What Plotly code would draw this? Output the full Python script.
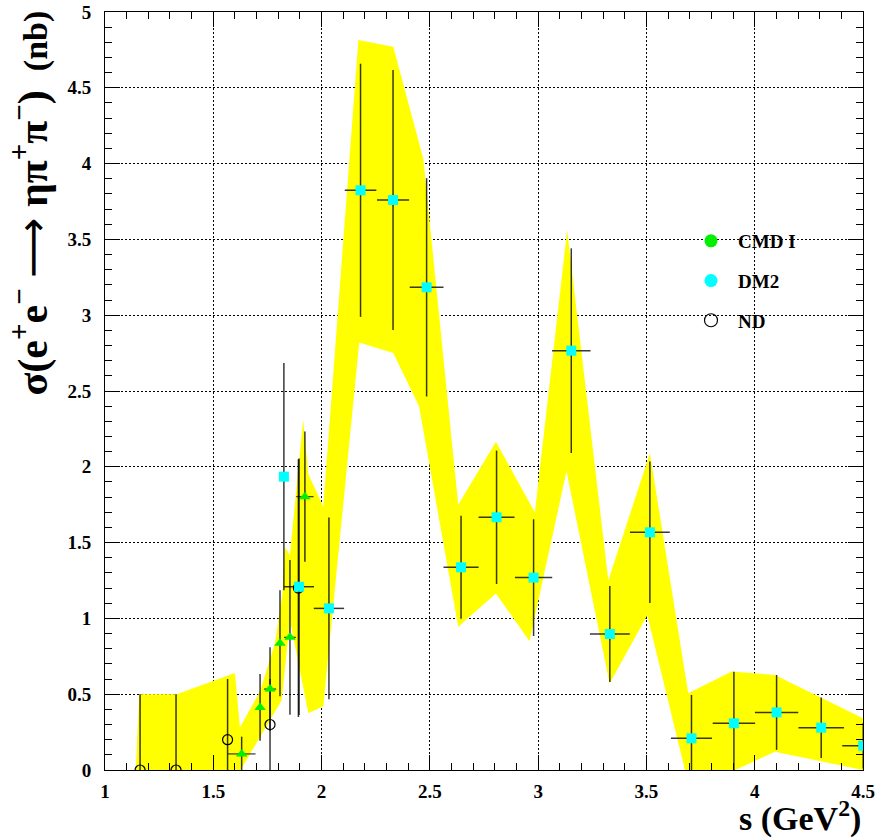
import numpy as np
import plotly.graph_objects as go

# ---------------- data ----------------
# DM2 (cyan squares)
dm2_x = [1.826, 1.896, 2.034, 2.180, 2.330, 2.485, 2.644, 2.808, 2.979, 3.153,
         3.331, 3.516, 3.708, 3.904, 4.101, 4.307, 4.501]
dm2_y = [1.935, 1.209, 1.066, 3.824, 3.760, 3.184, 1.337, 1.667, 1.269, 2.766,
         0.897, 1.568, 0.209, 0.308, 0.380, 0.279, 0.160]
dm2_ey = [0.750, 0.846, 0.600, 0.835, 0.857, 0.720, 0.340, 0.440, 0.385, 0.675,
          0.317, 0.467, 0.286, 0.340, 0.247, 0.200, 0.150]
dm2_ex = [0.0, 0.069, 0.070, 0.073, 0.074, 0.078, 0.081, 0.083, 0.086, 0.089,
          0.092, 0.092, 0.095, 0.098, 0.100, 0.105, 0.097]

# CMD I (green triangles)
cmd_x = [1.631, 1.716, 1.762, 1.808, 1.854, 1.923]
cmd_y = [0.106, 0.413, 0.534, 0.836, 0.875, 1.803]
cmd_ey = [0.114, 0.220, 0.276, 0.350, 0.510, 0.430]
cmd_ex = [0.064, 0.0, 0.028, 0.0, 0.027, 0.040]

# ND (open circles)
nd_x = [1.162, 1.328, 1.566, 1.762, 1.893]
nd_y = [0.0, 0.0, 0.20, 0.30, 1.20]
nd_ey = [0.50, 0.50, 0.40, 0.30, 0.85]

# yellow band: upper and lower edges
band_up_x = [1.142, 1.158, 1.331, 1.600, 1.623, 1.716, 1.785, 1.820, 1.831, 1.854,
             1.915, 1.939, 2.008, 2.170, 2.331, 2.470, 2.631, 2.805, 2.985, 3.134,
             3.324, 3.516, 3.693, 3.893, 4.093, 4.501]
band_up_y = [0.0, 0.50, 0.50, 0.64, 0.28, 0.52, 0.84, 1.17, 1.47, 1.42,
             2.31, 1.95, 1.74, 4.815, 4.77, 4.03, 1.75, 2.165, 1.70, 3.56,
             1.25, 2.09, 0.506, 0.65, 0.627, 0.34]
band_lo_x = [1.142, 1.626, 1.816, 1.854, 1.939, 2.008, 2.174, 2.331, 2.450, 2.631,
             2.805, 2.960, 3.131, 3.330, 3.504, 3.678, 3.910, 4.093, 4.300, 4.501]
band_lo_y = [0.0, 0.0, 0.46, 0.99, 0.374, 0.42, 2.82, 2.75, 2.40, 0.945,
             1.165, 0.85, 1.97, 0.57, 1.02, 0.0, 0.0, 0.12, 0.06, 0.0]

x_range = [1, 4.5]
y_range = [0, 5]

FONT = "Liberation Serif"
ERR_COLOR = "rgba(0,0,0,0.78)"

fig = go.Figure()

# band
poly_x = band_up_x + band_lo_x[::-1]
poly_y = band_up_y + band_lo_y[::-1]
fig.add_trace(go.Scatter(x=poly_x, y=poly_y, mode="lines", fill="toself",
                         fillcolor="#FFFF00", line=dict(width=0, color="#FFFF00"),
                         hoverinfo="skip", showlegend=False))


def minus(y, e):
    return list(np.minimum(np.array(e), np.array(y)))


# ND
fig.add_trace(go.Scatter(
    x=nd_x, y=nd_y, mode="markers", showlegend=False,
    marker=dict(symbol="circle-open", size=10, color="black", line=dict(width=1.2)),
    error_y=dict(type="data", array=nd_ey, arrayminus=minus(nd_y, nd_ey),
                 color=ERR_COLOR, thickness=1.5, width=0),
))

# CMD I
fig.add_trace(go.Scatter(
    x=cmd_x, y=cmd_y, mode="markers", showlegend=False,
    marker=dict(symbol="triangle-up", size=10, color="#00F000", line=dict(width=0)),
    error_y=dict(type="data", array=cmd_ey, arrayminus=minus(cmd_y, cmd_ey),
                 color=ERR_COLOR, thickness=1.5, width=0),
    error_x=dict(type="data", array=cmd_ex, color=ERR_COLOR, thickness=1.2, width=0),
))

# DM2
fig.add_trace(go.Scatter(
    x=dm2_x, y=dm2_y, mode="markers", showlegend=False,
    marker=dict(symbol="square", size=10, color="#00FFFF", line=dict(width=0)),
    error_y=dict(type="data", array=dm2_ey, arrayminus=minus(dm2_y, dm2_ey),
                 color=ERR_COLOR, thickness=1.5, width=0),
    error_x=dict(type="data", array=dm2_ex, color=ERR_COLOR, thickness=1.5, width=0),
))

# legend entries
fig.add_trace(go.Scatter(x=[None], y=[None], mode="markers", name="CMD I", legendgroup="a",
                         marker=dict(symbol="circle", size=13, color="#00F000")))
fig.add_trace(go.Scatter(x=[None], y=[None], mode="markers", name="DM2", legendgroup="b",
                         marker=dict(symbol="circle", size=13, color="#00FFFF")))
fig.add_trace(go.Scatter(x=[None], y=[None], mode="markers", name="ND", legendgroup="c",
                         marker=dict(symbol="circle-open", size=13, color="black",
                                     line=dict(width=1.2))))

axis_common = dict(
    showline=True, linecolor="black", linewidth=1, mirror="ticks",
    ticks="inside", ticklen=15, tickwidth=1, tickcolor="black",
    showgrid=True, gridcolor="black", gridwidth=1, griddash="2px,2px",
    zeroline=False, automargin=False,
    tickfont=dict(family=FONT, size=19, color="black", weight="bold"),
    minor=dict(ticks="inside", ticklen=7, tickwidth=1, tickcolor="black", showgrid=False),
)

fig.update_xaxes(range=x_range, tick0=1, dtick=0.5, minor_dtick=0.1,
                 ticklabelstandoff=4, **axis_common)
fig.update_yaxes(range=y_range, tick0=0, dtick=0.5, minor_dtick=0.1,
                 ticklabelstandoff=9, **axis_common)

fig.add_annotation(text="<b>s (GeV<sup>2</sup>)</b>", xref="paper", yref="paper",
                   x=1, y=0, xanchor="right", yanchor="middle", yshift=-46,
                   showarrow=False, font=dict(family=FONT, size=34, color="black"))


def sp(t):
    return '<sup><span style="font-size:29px">' + t + '</span></sup>'


ytitle = ("<b>σ(e" + sp("+") + "e" + sp("−")
          + ' <span style="font-family:DejaVu Sans;font-weight:normal">⟶</span> ηπ'
          + sp("+") + "π" + sp("−")
          + ') <span style="font-size:34px"> (nb)</span></b>')
fig.add_annotation(text=ytitle,
                   xref="paper", yref="paper", x=0, y=1, xanchor="center", yanchor="top",
                   xshift=-75, yshift=3, textangle=-90,
                   showarrow=False, font=dict(family=FONT, size=42, color="black"))

fig.update_layout(
    width=878, height=839,
    margin=dict(l=105, r=15, t=12, b=69, pad=0, autoexpand=False),
    paper_bgcolor="white", plot_bgcolor="white",
    showlegend=True,
    legend=dict(x=(684 - 105) / 758, y=1 - (222 - 12) / 758, xanchor="left", yanchor="top",
                bgcolor="rgba(0,0,0,0)", borderwidth=0, itemwidth=44,
                tracegroupgap=12, traceorder="grouped",
                font=dict(family=FONT, size=19, color="black", weight="bold")),
)

fig.write_html("out.html")
